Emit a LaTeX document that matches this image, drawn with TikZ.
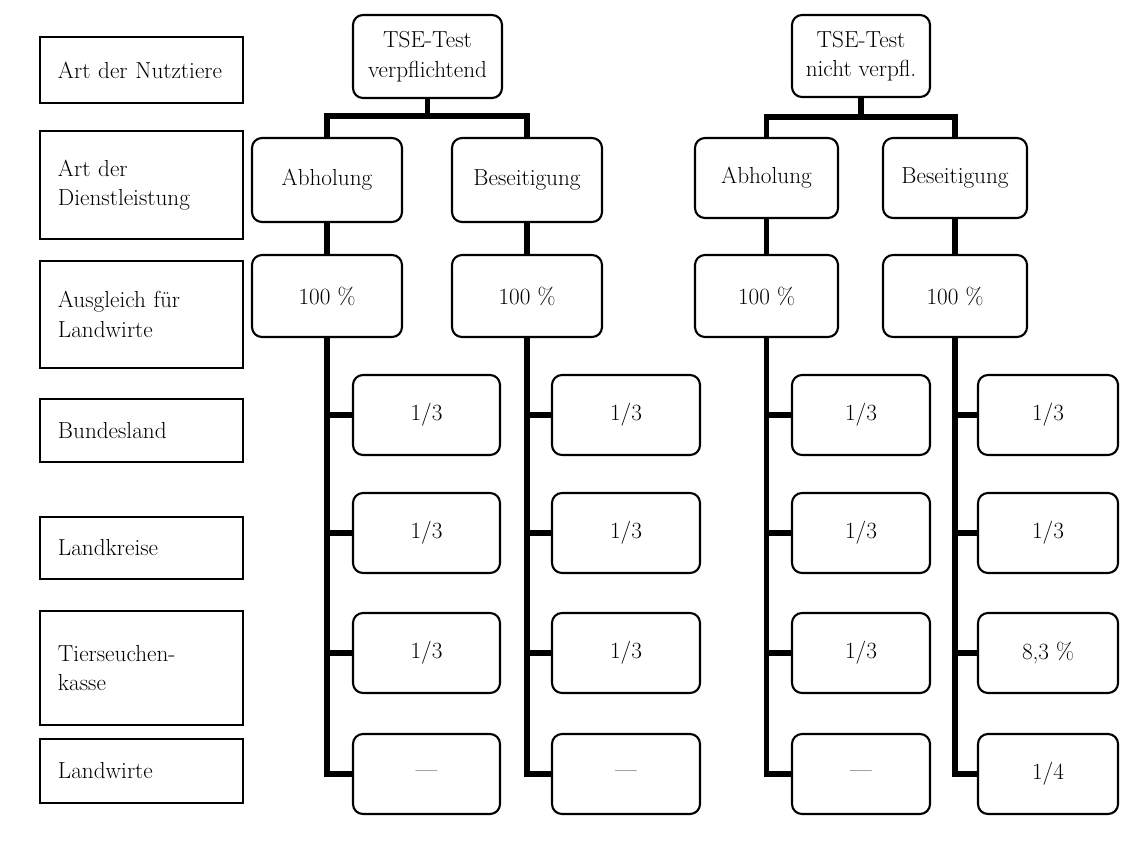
\documentclass[tikz,border=0pt]{standalone}
\usepackage{tikz}
\begin{document}
\begin{tikzpicture}[x=.025cm,y=-.025cm,line width=1.5pt,font=\fontsize{16.5}{21}\selectfont,
  lab/.style={draw,rectangle,text width=4.175cm,inner xsep=.45cm,inner ysep=0pt,align=left},
  rbox/.style={draw,rounded corners=.25cm,inner sep=0pt,align=center,minimum height=2cm},
  conn/.style={line width=4pt}]
\useasboundingbox (0,0) rectangle (1138,849);
% Zeilenbeschriftung
\node[lab,minimum height=1.65cm] (nutz) at (141.5,70) {Art der Nutztiere};
\node[lab,minimum height=2.7cm] (dienst) at (141.5,185) {Art der\\Dienstleistung};
\node[lab,minimum height=2.675cm] (ausgl) at (141.5,314.5) {Ausgleich für\\Landwirte};
\node[lab,minimum height=1.575cm] (bund) at (141.5,430.5) {Bundesland};
\node[lab,minimum height=1.55cm] (kreis) at (141.5,548) {Landkreise};
\node[lab,minimum height=2.85cm] (kasse) at (141.5,668) {Tierseuchen-\\kasse};
\node[lab,minimum height=1.6cm] (lw) at (141.5,771) {Landwirte};
% TSE-Test verpflichtend
\node[rbox,minimum width=3.725cm,minimum height=2.075cm] (tv) at (427.5,56.5) {TSE-Test\\verpflichtend};
\node[rbox,minimum width=3.75cm,minimum height=2.1cm] (av) at (327,180) {Abholung};
\node[rbox,minimum width=3.75cm,minimum height=2.1cm] (bv) at (527,180) {Beseitigung};
\node[rbox,minimum width=3.75cm,minimum height=2.05cm] (pav) at (327,296) {100 \%};
\node[rbox,minimum width=3.75cm,minimum height=2.05cm] (pbv) at (527,296) {100 \%};
\node[rbox,minimum width=3.675cm] (va1) at (426.5,415) {1/3};
\node[rbox,minimum width=3.675cm] (va2) at (426.5,533) {1/3};
\node[rbox,minimum width=3.675cm] (va3) at (426.5,653) {1/3};
\node[rbox,minimum width=3.675cm] (va4) at (426.5,774) {---};
\node[rbox,minimum width=3.7cm] (vb1) at (626,415) {1/3};
\node[rbox,minimum width=3.7cm] (vb2) at (626,533) {1/3};
\node[rbox,minimum width=3.7cm] (vb3) at (626,653) {1/3};
\node[rbox,minimum width=3.7cm] (vb4) at (626,774) {---};
% TSE-Test nicht verpflichtend
\node[rbox,minimum width=3.45cm,minimum height=2.05cm] (tn) at (861,56) {TSE-Test\\nicht verpfl.};
\node[rbox,minimum width=3.575cm,minimum height=2cm] (an) at (766.5,178) {Abholung};
\node[rbox,minimum width=3.6cm,minimum height=2cm] (bn) at (955,178) {Beseitigung};
\node[rbox,minimum width=3.575cm,minimum height=2.05cm] (pan) at (766.5,296) {100 \%};
\node[rbox,minimum width=3.6cm,minimum height=2.05cm] (pbn) at (955,296) {100 \%};
\node[rbox,minimum width=3.45cm] (vc1) at (861,415) {1/3};
\node[rbox,minimum width=3.45cm] (vc2) at (861,533) {1/3};
\node[rbox,minimum width=3.45cm] (vc3) at (861,653) {1/3};
\node[rbox,minimum width=3.45cm] (vc4) at (861,774) {---};
\node[rbox,minimum width=3.5cm] (vd1) at (1048,415) {1/3};
\node[rbox,minimum width=3.5cm] (vd2) at (1048,533) {1/3};
\node[rbox,minimum width=3.5cm] (vd3) at (1048,653) {8,3 \%};
\node[rbox,minimum width=3.5cm] (vd4) at (1048,774) {1/4};
% Verbindungen
\coordinate (barv) at (427.5,116);\coordinate (barn) at (861,117);
\draw[conn] (tv.south)--(barv);\draw[conn] (av.north) |- (barv) -| (bv.north);
\draw[conn] (tn.south)--(barn);\draw[conn] (an.north) |- (barn) -| (bn.north);
\draw[conn] (av.south)--(pav.north);\draw[conn] (bv.south)--(pbv.north);
\draw[conn] (an.south)--(pan.north);\draw[conn] (bn.south)--(pbn.north);
\draw[conn] (pav.south) |- (va4.west);\draw[conn] (pav.south |- va1.west)--(va1.west);
\draw[conn] (pav.south |- va2.west)--(va2.west);\draw[conn] (pav.south |- va3.west)--(va3.west);
\draw[conn] (pbv.south) |- (vb4.west);\draw[conn] (pbv.south |- vb1.west)--(vb1.west);
\draw[conn] (pbv.south |- vb2.west)--(vb2.west);\draw[conn] (pbv.south |- vb3.west)--(vb3.west);
\draw[conn] (pan.south) |- (vc4.west);\draw[conn] (pan.south |- vc1.west)--(vc1.west);
\draw[conn] (pan.south |- vc2.west)--(vc2.west);\draw[conn] (pan.south |- vc3.west)--(vc3.west);
\draw[conn] (pbn.south) |- (vd4.west);\draw[conn] (pbn.south |- vd1.west)--(vd1.west);
\draw[conn] (pbn.south |- vd2.west)--(vd2.west);\draw[conn] (pbn.south |- vd3.west)--(vd3.west);
\end{tikzpicture}
\end{document}
